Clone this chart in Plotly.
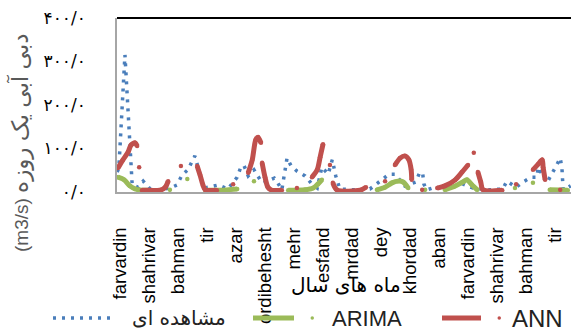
import plotly.graph_objects as go

# ---------------- data ----------------
month_labels = ["farvardin", "shahrivar", "bahman", "tir", "azar", "ordibehesht",
                "mehr", "esfand", "mrdad", "dey", "khordad", "aban",
                "farvardin", "shahrivar", "bahman", "tir"]
month_ticks = [0, 5, 10, 15, 20, 25, 30, 35, 40, 45, 50, 55, 60, 65, 70, 75]

y_ticks = [0, 100, 200, 300, 400]
y_tick_labels = ["۰/۰", "۱۰۰/۰", "۲۰۰/۰", "۳۰۰/۰", "۴۰۰/۰"]

series_names = ["مشاهده ای", "ARIMA", "ANN"]

# observed (مشاهده ای)
obs_month = [-0.5, -0.2, 0.85, 2.1, 3.1, 4.0, 5.2, 6.6, 8.6, 9.8, 10.7, 11.7, 12.9,
             14.5, 16.9, 18.6, 20.2, 20.9, 21.4, 22.1, 23.1, 24.5, 25.9, 26.6, 27.2,
             27.9, 28.8, 29.5, 30.5, 31.9, 33.1, 34.0, 34.8, 35.9, 36.6, 37.2, 37.9,
             40.5, 43.1, 46.4, 47.4, 49.1, 51.0, 51.7, 52.2, 52.4, 52.9, 54.3, 57.2,
             58.6, 60.9, 63.8, 66.0, 66.7, 68.3, 69.5, 70.9, 71.9, 72.1, 73.6, 75.3,
             75.9, 76.2, 76.4, 77.7]
obs_value = [46, 55, 315, 16, 11, 25, 7, 5, 9, 16, 39, 51, 83,
             9, 16, 7, 34, 60, 60, 37, 51, 21, 28, 32, 21,
             5, 78, 60, 48, 37, 18, 9, 57, 41, 74, 37, 7,
             5, 7, 41, 41, 14, 23, 46, 41, 18, 5, 11, 7,
             21, 9, 5, 7, 25, 11, 23, 34, 34, 57, 21, 62,
             78, 55, 5, 14]

# ARIMA
arima_month = [-0.35, 0.7, 1.7, 2.6, 3.8, 4.8, 6.5, 8.6, 10, 11.6, 13, 14.7, 17.2,
               20.2, 21.5, 23.1, 26, 29.0, 31.9, 33.3, 34.1, 34.8, 40, 44.3, 45.7,
               46.9, 47.9, 48.8, 49.7, 51, 52.6, 54, 56.0, 57.8, 59.1, 59.8, 60.7,
               61.6, 65, 68.1, 70, 71.2, 72.5, 74.1, 77.2]
arima_value = [34, 28, 14, 7, 4, 4, None, 5, None, 30, None, 4, 4,
               7, None, 25, None, 4, 5, 9, 18, 28, None, 5, 11,
               21, 25, 23, 9, None, 5, None, 5, 14, 23, 28, 16,
               5, None, 9, None, 21, None, 5, 4]

# ANN
ann_month = [-0.35, 0.5, 1.4, 1.9, 2.6, 2.95, 3.1, 3.3, 3.5, 3.8, 5.2, 6.9, 7.8, 8.3,
             9.4, 10.5, 12, 13.3, 13.8, 14.3, 14.7, 16.7, 18, 19.5, 21, 22.1, 22.8,
             23.4, 23.8, 24.3, 24.4, 24.5, 25.0, 25.5, 26.2, 27.9, 29, 30.5, 32,
             33.1, 34.0, 34.5, 35.0, 35.6, 36.2, 36.5, 36.7, 37.4, 41.4, 42.4, 44,
             45.7, 46.5, 47.4, 48.3, 49.1, 49.8, 50.2, 50.3, 51, 52.1, 53, 54.7,
             56.0, 57.8, 59.0, 60.0, 60.5, 61.0, 61.4, 61.7, 62.2, 62.6, 65.9, 67,
             68.3, 70, 71.2, 72.1, 72.8, 72.95, 73.3, 74, 75.9]
ann_value = [55, 74, 92, 108, 113, 106, None, 57, None, 4, 4, 4, 11, 25,
             None, 60, None, 60, 39, 16, 5, 4, None, 18, None, 44, 74,
             120, 126, 113, None, 67, 34, 11, 4, 4, None, 9, None,
             34, 51, 80, 110, None, 62, None, 21, 5, 4, 11, None,
             25, None, 62, 78, 83, 74, 51, 28, None, 5, None, 9,
             14, 28, 46, 62, None, 90, None, 46, 23, 5, 4, None,
             18, None, 51, 64, 74, 57, 28, None, 5]

BLUE = "#4a7ebb"
GREEN = "#9bbb59"
RED = "#c0504d"
DOT = "3px,6px"

fig = go.Figure()
fig.add_trace(go.Scatter(
    x=obs_month, y=obs_value, name=series_names[0], mode="lines",
    line=dict(color=BLUE, width=3.5, dash=DOT),
))
fig.add_trace(go.Scatter(
    x=arima_month, y=arima_value, name=series_names[1], mode="lines+markers",
    line=dict(color=GREEN, width=5, shape="spline", smoothing=0.8),
    marker=dict(color=GREEN, size=4.5),
))
fig.add_trace(go.Scatter(
    x=ann_month, y=ann_value, name=series_names[2], mode="lines+markers",
    line=dict(color=RED, width=5, shape="spline", smoothing=0.8),
    marker=dict(color=RED, size=4.5),
))

W, H = 571, 331
L, T, B = 117, 18, 139
pw = W - L
ph = H - T - B


def px(xp):
    return (xp - L) / pw


def py(yp):
    return (T + ph - yp) / ph


# ---- legend, drawn in paper space (row at the bottom, clipped at right like the reference)
LEG_Y = 318
legend_shapes = [
    dict(type="line", xref="paper", yref="paper", x0=px(53), x1=px(113), y0=py(LEG_Y), y1=py(LEG_Y),
         line=dict(color=BLUE, width=3.5, dash=DOT)),
    dict(type="line", xref="paper", yref="paper", x0=px(253), x1=px(294), y0=py(LEG_Y), y1=py(LEG_Y),
         line=dict(color=GREEN, width=5)),
    dict(type="circle", xref="paper", yref="paper", x0=px(310.5), x1=px(314), y0=py(LEG_Y + 1.75),
         y1=py(LEG_Y - 1.75), line=dict(color=GREEN, width=0), fillcolor=GREEN),
    dict(type="line", xref="paper", yref="paper", x0=px(442), x1=px(481), y0=py(LEG_Y), y1=py(LEG_Y),
         line=dict(color=RED, width=5)),
    dict(type="circle", xref="paper", yref="paper", x0=px(497.5), x1=px(501), y0=py(LEG_Y + 1.75),
         y1=py(LEG_Y - 1.75), line=dict(color=RED, width=0), fillcolor=RED),
]
legend_texts = [
    dict(text=series_names[0], xref="paper", yref="paper", x=px(130), y=py(LEG_Y), xanchor="left",
         yanchor="middle", showarrow=False, font=dict(family="DejaVu Sans", size=20, color="#222")),
    dict(text=series_names[1], xref="paper", yref="paper", x=px(330), y=py(LEG_Y), xanchor="left",
         yanchor="middle", showarrow=False, font=dict(family="Liberation Sans", size=22, color="#222")),
    dict(text=series_names[2], xref="paper", yref="paper", x=px(510), y=py(LEG_Y), xanchor="left",
         yanchor="middle", showarrow=False, font=dict(family="Liberation Sans", size=24, color="#222")),
]

fig.update_layout(
    width=W, height=H,
    margin=dict(l=L, r=0, t=T, b=B, autoexpand=False),
    paper_bgcolor="white", plot_bgcolor="white",
    showlegend=False,
    xaxis=dict(range=[-0.52, 77.76], tickvals=month_ticks, ticktext=month_labels,
               tickangle=-90, showgrid=False, zeroline=False, ticks="",
               tickfont=dict(family="Liberation Sans", size=18.5, color="black"),
               ticklabelstandoff=26,
               showline=True, linecolor="#a6a6a6", linewidth=2, automargin=False),
    yaxis=dict(range=[0, 400], tickvals=y_ticks, ticktext=y_tick_labels,
               showgrid=False, zeroline=False, ticks="",
               tickfont=dict(family="DejaVu Sans", size=17, color="black"),
               ticklabelstandoff=26,
               showline=True, linecolor="#a6a6a6", linewidth=1.5, automargin=False),
    annotations=[
        dict(text='<span style="font-size:19px">(m3/s)</span> '
                  '<span style="font-size:23px">دبی آبی یک روزه</span>',
             xref="paper", yref="paper",
             x=px(20), y=py(143), xanchor="center", yanchor="middle",
             textangle=-90, showarrow=False,
             font=dict(family="Liberation Sans, DejaVu Sans", size=19, color="#595959")),
        dict(text="ماه های سال", xref="paper", yref="paper",
             x=px(346), y=py(285), xanchor="center", yanchor="middle",
             showarrow=False,
             font=dict(family="DejaVu Sans", size=20, color="black")),
    ] + legend_texts,
    shapes=[dict(type="line", xref="paper", yref="paper", x0=0, x1=1, y0=1, y1=1,
                 line=dict(color="black", width=2), layer="above")] + legend_shapes,
)

fig.write_html("out.html")
